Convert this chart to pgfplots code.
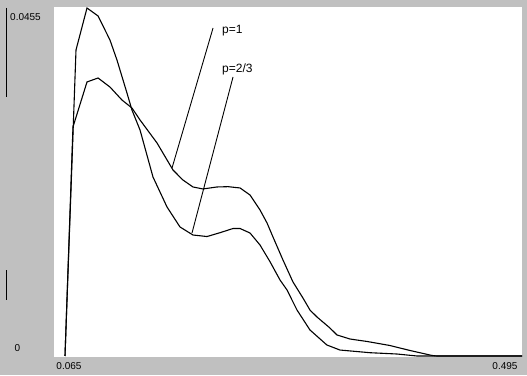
\documentclass[border=0pt]{standalone}
\usepackage{pgfplots}
\pgfplotsset{compat=1.18}
\usepackage{fontspec}
\setmainfont{Liberation Sans}
\definecolor{winsilver}{RGB}{192,192,192}
\begin{document}
\begin{tikzpicture}[x=1pt,y=1pt]
\fill[winsilver] (0,0) rectangle (527,375);
\fill[white] (54,18) rectangle (522,367.5);
\draw[black,line width=1pt] (6.5,367) -- (6.5,278);
\draw[black,line width=1pt] (6.5,105) -- (6.5,75);
\begin{axis}[
  at={(54pt,18pt)}, anchor=south west,
  scale only axis, width=468pt, height=349.5pt,
  xmin=0.05465, xmax=0.495, ymin=-0.000131, ymax=0.045567,
  axis line style={draw=none}, ticks=none,
  clip=false,
]
\addplot[black, line width=1.1pt] coordinates {
(0.065,0) (0.07535,0.04001) (0.0857,0.0455) (0.0961,0.04446) (0.1073,0.04132)
(0.1139,0.03870) (0.1233,0.03439) (0.1280,0.03216) (0.1356,0.02955) (0.1478,0.02340)
(0.1610,0.01948) (0.1732,0.01687) (0.1854,0.01582) (0.1986,0.01562) (0.2108,0.01612)
(0.2231,0.01667) (0.2297,0.01667) (0.2391,0.01608) (0.2485,0.01451) (0.2579,0.01233)
(0.2673,0.00994) (0.2739,0.00863) (0.2833,0.00601) (0.2955,0.00340) (0.3114,0.00144)
(0.3237,0.00078) (0.3520,0.00043) (0.3774,0.00026) (0.3962,0) (0.495,0)
};
\addplot[black, line width=1.1pt] coordinates {
(0.065,0) (0.0725,0.02994) (0.0857,0.03583) (0.0961,0.03635) (0.1073,0.03517)
(0.1186,0.03347) (0.1280,0.03243) (0.1356,0.03086) (0.1516,0.02785) (0.1666,0.02432)
(0.1760,0.02301) (0.1854,0.02210) (0.1948,0.02184) (0.2080,0.02210) (0.2184,0.02214)
(0.2297,0.02197) (0.2391,0.02105) (0.2485,0.01909) (0.2551,0.01739) (0.2607,0.01556)
(0.2701,0.01255) (0.2795,0.00968) (0.2889,0.00758) (0.2955,0.00601) (0.3021,0.00510)
(0.3143,0.00366) (0.3209,0.00275) (0.3332,0.00222) (0.3492,0.00190) (0.3708,0.00137)
(0.3896,0.00072) (0.4103,0.00007) (0.4150,0) (0.495,0)
};
\addplot[black, line width=0.9pt] coordinates {(0.2043,0.04289) (0.1657,0.02458)};
\addplot[black, line width=0.9pt] coordinates {(0.2231,0.03648) (0.1845,0.01608)};
\end{axis}
\node[anchor=west, inner sep=0, font=\fontsize{12}{14}\selectfont] at (222,344) {p=1};
\node[anchor=west, inner sep=0, font=\fontsize{12}{14}\selectfont] at (222,306) {p=2/3};
\node[anchor=west, inner sep=0, font=\fontsize{10}{12}\selectfont] at (10,357.5) {0.0455};
\node[inner sep=0, font=\fontsize{10}{12}\selectfont] at (17.5,26.5) {0};
\node[inner sep=0, font=\fontsize{10}{12}\selectfont] at (69,8.5) {0.065};
\node[inner sep=0, font=\fontsize{10}{12}\selectfont] at (505,9) {0.495};
\end{tikzpicture}
\end{document}
